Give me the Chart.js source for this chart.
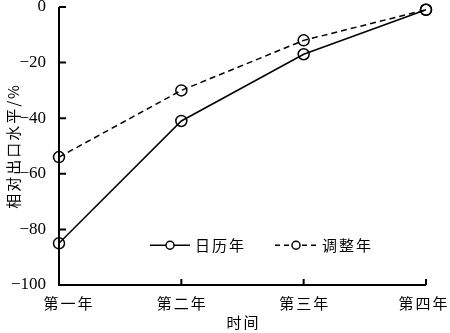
<!DOCTYPE html>
<html><head><meta charset="utf-8">
<script src="https://cdn.jsdelivr.net/npm/chart.js@4/dist/chart.umd.min.js"></script>
<style>html,body{margin:0;padding:0;background:#fff}#wrap{width:450px;height:333px}</style>
</head><body><div id="wrap"><canvas id="c" width="450" height="333"></canvas></div>
<script>
const categories = ['第一年','第二年','第三年','第四年'];
const calendarYear = [-85, -41, -17, -1];
const adjustedYear = [-54, -30, -12, -1];
const seriesNames = ['日历年','调整年'];
const yTitle = '相对出口水平/%';
const xTitle = '时间';

const CJK = '"Noto Sans CJK SC", sans-serif';
const SERIF = '"Liberation Serif", "DejaVu Serif", serif';

const decor = {
  id:'decor',
  afterDraw(chart){
    const {ctx, chartArea:a, scales:{x,y}} = chart;
    ctx.save();
    ctx.strokeStyle='#000'; ctx.lineWidth=2;
    ctx.beginPath();
    ctx.moveTo(a.left, a.top); ctx.lineTo(a.left, a.bottom); ctx.lineTo(a.right, a.bottom);
    y.ticks.forEach(t=>{const py=y.getPixelForValue(t.value); ctx.moveTo(a.left,py); ctx.lineTo(a.left+7,py);});
    categories.forEach((c,i)=>{ if(i===0) return; const px=x.getPixelForValue(i); ctx.moveTo(px,a.bottom); ctx.lineTo(px,a.bottom-6);});
    ctx.stroke();
    // x tick labels (first and last nudged inward as in the reference)
    ctx.fillStyle='#000';
    ctx.font='15px '+CJK; ctx.letterSpacing='2px';
    ctx.textAlign='center'; ctx.textBaseline='middle';
    const last = categories.length-1;
    categories.forEach((c,i)=>{
      const nudge = i===0 ? 9 : (i===last ? -3 : 0);
      ctx.fillText(c, x.getPixelForValue(i)+1+nudge, 303);
    });
    // x title
    ctx.fillText(xTitle, (a.left+a.right)/2+1, 322);
    // y title
    ctx.save(); ctx.translate(13, 147); ctx.rotate(-Math.PI/2);
    ctx.fillText(yTitle, 1, 0); ctx.restore();
    // legend
    const ly = y.getPixelForValue(-85.7);
    const items = [{x0:150, x1:190, cx:170, dash:[], tx:195, label:seriesNames[0]},
                   {x0:275, x1:318, cx:296, dash:[5,4], tx:322, label:seriesNames[1]}];
    items.forEach(it=>{
      ctx.setLineDash(it.dash); ctx.lineWidth=1.5;
      ctx.beginPath(); ctx.moveTo(it.x0, ly); ctx.lineTo(it.x1, ly); ctx.stroke();
      ctx.setLineDash([]);
      ctx.beginPath(); ctx.arc(it.cx, ly, 4, 0, Math.PI*2); ctx.fillStyle='#fff'; ctx.fill(); ctx.stroke();
      ctx.fillStyle='#000'; ctx.font='15px '+CJK; ctx.textAlign='left';
      ctx.fillText(it.label, it.tx, ly);
    });
    ctx.restore();
  }
};

new Chart(document.getElementById('c'), {
  type:'line',
  data:{labels:categories, datasets:[
    {label:seriesNames[0], data:calendarYear, borderColor:'#000', borderWidth:1.5, pointRadius:5.5, pointBorderWidth:1.5, pointBackgroundColor:'rgba(255,255,255,0)', pointBorderColor:'#000', tension:0, clip:false},
    {label:seriesNames[1], data:adjustedYear, borderColor:'#000', borderWidth:1.5, borderDash:[6,4], pointRadius:5.5, pointBorderWidth:1.5, pointBackgroundColor:'rgba(255,255,255,0)', pointBorderColor:'#000', tension:0, clip:false}
  ]},
  options:{
    responsive:false, animation:false,
    layout:{padding:{top:6,right:24,left:0,bottom:0}},
    plugins:{legend:{display:false}, tooltip:{enabled:false}},
    scales:{
      x:{offset:false, border:{display:false}, grid:{display:false},
         ticks:{display:false},
         afterFit(s){ s.height = 48; s.paddingLeft=0; s.paddingRight=0; }},
      y:{min:-100, max:0, border:{display:false}, grid:{display:false},
         ticks:{stepSize:20, color:'#000', font:{family:SERIF, size:17}, padding:5, callback:v=>String(v).replace('-','−')},
         afterFit(s){ s.width = 59; s.paddingTop=0; s.paddingBottom=0; }}
    }
  },
  plugins:[decor]
});
</script></body></html>
